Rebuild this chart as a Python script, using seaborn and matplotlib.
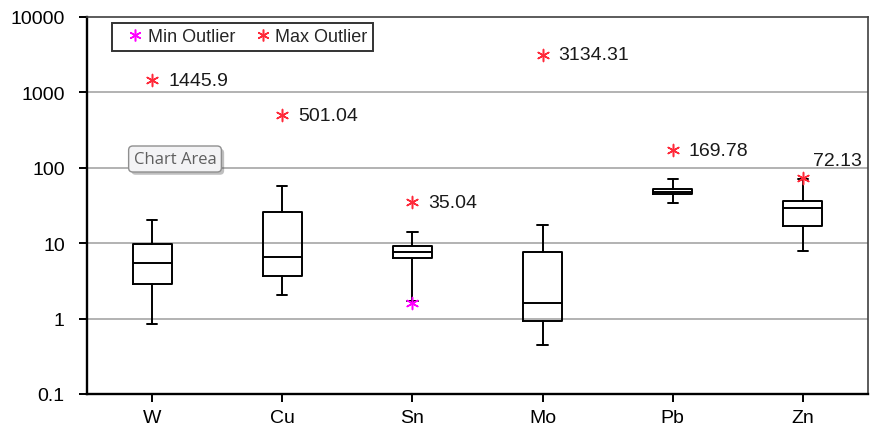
import matplotlib
matplotlib.use("Agg")
import matplotlib.pyplot as plt
from matplotlib.lines import Line2D
import matplotlib.patheffects as pe
import numpy as np
import pandas as pd
import seaborn as sns

# Summary statistics per element (ppm)
elements = ["W", "Cu", "Sn", "Mo", "Pb", "Zn"]
whisker_low = [0.86, 2.08, 1.7, 0.44, 34.0, 7.9]
q1 = [2.9, 3.65, 6.3, 0.93, 44.3, 17.0]
median = [5.4, 6.6, 7.7, 1.6, 48.0, 29.0]
q3 = [9.9, 25.8, 9.1, 7.7, 53.0, 36.6]
whisker_high = [20.6, 57.0, 14.0, 17.7, 70.0, 70.0]

# Outliers
max_outlier = [1445.9, 501.04, 35.04, 3134.31, 169.78, 72.13]
min_outlier_element = ["Sn"]
min_outlier = [1.63]

y_ticks = [0.1, 1, 10, 100, 1000, 10000]
y_tick_labels = ["0.1", "1", "10", "100", "1000", "10000"]

sns.set_theme(style="white")
plt.rcParams["font.family"] = ["Liberation Sans", "DejaVu Sans"]

fig = plt.figure(figsize=(8.71, 4.31), dpi=100)
ax = fig.add_axes([87 / 871, 1 - 395 / 431, 781 / 871, 377 / 431])

stats = [
    dict(label=e, whislo=lo, q1=a, med=m, q3=b, whishi=hi, fliers=[])
    for e, lo, a, m, b, hi in zip(elements, whisker_low, q1, median, q3, whisker_high)
]
positions = np.arange(len(elements))
line = dict(color="black", linewidth=1.4)
ax.bxp(stats, positions=positions, widths=0.3, capwidths=0.08,
       showfliers=False, patch_artist=False,
       boxprops=line, medianprops=line, whiskerprops=line, capprops=line)

# Outlier stars
star = (6, 2, 0)
max_color = "#ff2a3a"
min_color = "#ff00ff"
max_df = pd.DataFrame({"pos": positions, "value": max_outlier})
min_df = pd.DataFrame({"pos": [elements.index(e) for e in min_outlier_element],
                       "value": min_outlier})
sns.scatterplot(data=max_df, x="pos", y="value", marker=star, s=75,
                color=max_color, edgecolor=max_color, linewidth=1.1, ax=ax, zorder=5)
sns.scatterplot(data=min_df, x="pos", y="value", marker=star, s=75,
                color=min_color, edgecolor=min_color, linewidth=1.1, ax=ax, zorder=5)

# Value labels for the maximum outliers
for i, v in enumerate(max_outlier):
    txt = f"{v:g}"
    offset = (10, 18) if elements[i] == "Zn" else (16, 0)
    ax.annotate(txt, (i, v), xytext=offset, textcoords="offset pixels",
                ha="left", va="center", fontsize=14, color="#1a1a1a")

ax.set_yscale("log")
ax.set_ylim(0.1, 10000)
ax.set_xlim(-0.5, len(elements) - 0.5)
ax.set_yticks(y_ticks)
ax.set_yticklabels(y_tick_labels)
ax.minorticks_off()
ax.set_xticks(positions)
ax.set_xticklabels(elements)
ax.set_xlabel("")
ax.set_ylabel("")

for y in [1, 10, 100, 1000]:
    ax.axhline(y, color="#a6a6a6", linewidth=1.2, zorder=0)

ax.tick_params(axis="y", which="major", left=True, length=6, width=1.4,
               pad=10, labelsize=14, colors="black")
ax.tick_params(axis="x", which="major", bottom=True, length=6, width=1.4,
               pad=5, labelsize=14, colors="black")

for side in ["left", "bottom"]:
    ax.spines[side].set_color("black")
    ax.spines[side].set_linewidth(1.7)
for side in ["top", "right"]:
    ax.spines[side].set_color("#404040")
    ax.spines[side].set_linewidth(1.2)
    ax.spines[side].set_visible(True)

handles = [
    Line2D([], [], linestyle="none", marker=star, markersize=8.5,
           markeredgecolor=min_color, markeredgewidth=1.1, label="Min Outlier"),
    Line2D([], [], linestyle="none", marker=star, markersize=8.5,
           markeredgecolor=max_color, markeredgewidth=1.1, label="Max Outlier"),
]
leg = ax.legend(handles=handles, ncol=2, loc="upper left",
                bbox_to_anchor=(0.032, 0.984), frameon=True, fancybox=False,
                edgecolor="black", fontsize=13, handlelength=2.0,
                handletextpad=-0.3, columnspacing=0.5, borderpad=0.3,
                borderaxespad=0)
leg.get_frame().set_linewidth(1.4)

# Chart tooltip box
tip = fig.text(175 / 871, 1 - 160 / 431, "Chart Area", ha="center", va="center",
               fontsize=12, color="#5f5f5f", family=["Open Sans", "DejaVu Sans"],
               bbox=dict(boxstyle="round,pad=0.3,rounding_size=0.25",
                         facecolor="#f3f3f5", edgecolor="#8f8f8f", linewidth=1))
tip.get_bbox_patch().set_path_effects(
    [pe.SimplePatchShadow(offset=(2, -2), alpha=0.35), pe.Normal()])

fig.savefig("out.png", dpi=100)
